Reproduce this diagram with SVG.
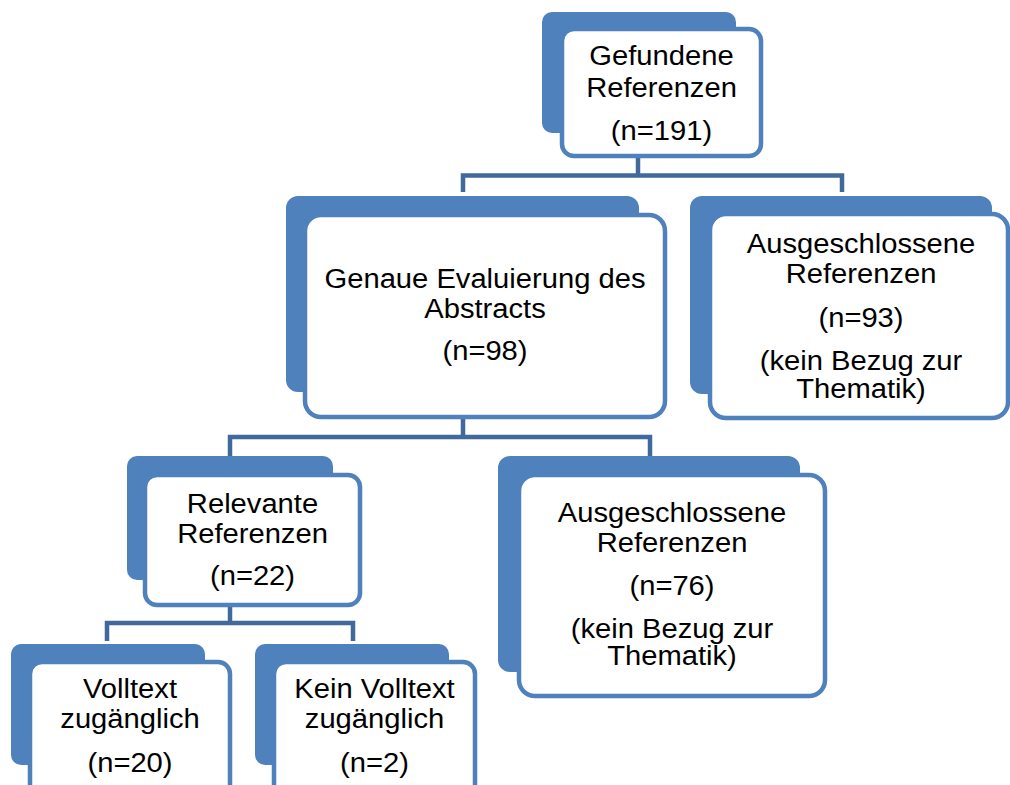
<svg xmlns="http://www.w3.org/2000/svg" width="1010" height="785" viewBox="0 0 1010 785">
<style>
.back{fill:#4f81bd;}
.front{fill:#ffffff;stroke:#4f81bd;stroke-width:4.5;}
.conn{fill:none;stroke:#41699b;stroke-width:4.5;stroke-linejoin:miter;}
.t{font-family:"Liberation Sans",Arial,sans-serif;font-size:27px;fill:#000;text-anchor:middle;}
</style>
<rect width="1010" height="785" fill="#ffffff"/>
<g id="connectors">
<path class="conn" d="M638,158 V175.5"/>
<path class="conn" d="M463,192 V175.5 H842 V192"/>
<path class="conn" d="M463,419 V437"/>
<path class="conn" d="M230,456 V437 H650 V456"/>
<path class="conn" d="M230,607 V623"/>
<path class="conn" d="M107,641 V623 H353 V641"/>
</g>
<g id="n1">
<rect class="back" x="542" y="12" width="194" height="121" rx="10"/>
<rect class="front" x="562" y="29" width="199" height="127" rx="12"/>
<text class="t" transform="matrix(1.08 0 0 1 661.5 0)"><tspan x="0" y="65">Gefundene</tspan><tspan x="0" y="97">Referenzen</tspan><tspan x="0" y="140">(n=191)</tspan></text>
</g>
<g id="n2">
<rect class="back" x="286" y="196" width="353" height="196" rx="12"/>
<rect class="front" x="305" y="215" width="360" height="202" rx="16"/>
<text class="t" transform="matrix(1.08 0 0 1 485 0)"><tspan x="0" y="288">Genaue Evaluierung des</tspan><tspan x="0" y="318">Abstracts</tspan><tspan x="0" y="360">(n=98)</tspan></text>
</g>
<g id="n3">
<rect class="back" x="690" y="196" width="302" height="198" rx="12"/>
<rect class="front" x="710" y="214" width="298" height="204" rx="16"/>
<text class="t" transform="matrix(1.08 0 0 1 861 0)"><tspan x="0" y="253">Ausgeschlossene</tspan><tspan x="0" y="283">Referenzen</tspan><tspan x="0" y="327">(n=93)</tspan><tspan x="0" y="370">(kein Bezug zur</tspan><tspan x="0" y="398">Thematik)</tspan></text>
</g>
<g id="n4">
<rect class="back" x="127" y="456" width="206" height="124" rx="10"/>
<rect class="front" x="145" y="475" width="215" height="130" rx="12"/>
<text class="t" transform="matrix(1.08 0 0 1 252.5 0)"><tspan x="0" y="513">Relevante</tspan><tspan x="0" y="543">Referenzen</tspan><tspan x="0" y="585">(n=22)</tspan></text>
</g>
<g id="n5">
<rect class="back" x="498" y="456" width="302" height="216" rx="12"/>
<rect class="front" x="519" y="475" width="306" height="221" rx="16"/>
<text class="t" transform="matrix(1.08 0 0 1 672 0)"><tspan x="0" y="522">Ausgeschlossene</tspan><tspan x="0" y="552">Referenzen</tspan><tspan x="0" y="595">(n=76)</tspan><tspan x="0" y="638">(kein Bezug zur</tspan><tspan x="0" y="665">Thematik)</tspan></text>
</g>
<g id="n6">
<rect class="back" x="11" y="644" width="194" height="121" rx="10"/>
<rect class="front" x="30" y="662" width="200" height="140" rx="12"/>
<text class="t" transform="matrix(1.08 0 0 1 130 0)"><tspan x="0" y="698">Volltext</tspan><tspan x="0" y="728">zugänglich</tspan><tspan x="0" y="772">(n=20)</tspan></text>
</g>
<g id="n7">
<rect class="back" x="255" y="644" width="194" height="121" rx="10"/>
<rect class="front" x="274" y="662" width="201" height="140" rx="12"/>
<text class="t" transform="matrix(1.08 0 0 1 374.5 0)"><tspan x="0" y="698">Kein Volltext</tspan><tspan x="0" y="728">zugänglich</tspan><tspan x="0" y="772">(n=2)</tspan></text>
</g>
</svg>
